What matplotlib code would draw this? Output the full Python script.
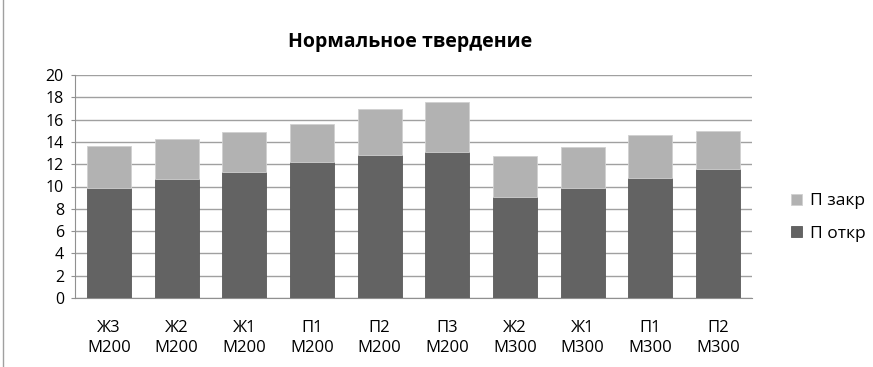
import matplotlib.pyplot as plt
import numpy as np

# Данные
labels = ['Ж3\nМ200', 'Ж2\nМ200', 'Ж1\nМ200', 'П1\nМ200', 'П2\nМ200',
          'П3\nМ200', 'Ж2\nМ300', 'Ж1\nМ300', 'П1\nМ300', 'П2\nМ300']
p_otkr = [9.9, 10.7, 11.3, 12.2, 12.8, 13.1, 9.1, 9.85, 10.8, 11.6]
p_total = [13.65, 14.25, 14.85, 15.6, 16.95, 17.55, 12.7, 13.5, 14.6, 15.0]
p_zakr = [t - o for t, o in zip(p_total, p_otkr)]

plt.rcParams['font.family'] = ['Open Sans', 'DejaVu Sans']
plt.rcParams['font.size'] = 11

fig = plt.figure(figsize=(8.73, 3.67), dpi=100)
ax = fig.add_axes([75 / 873, 1 - 298 / 367, 677 / 873, 223 / 367])

x = np.arange(len(labels))
ax.bar(x, p_otkr, width=0.65, color='#636363', edgecolor='#5a5a5a', linewidth=0.6,
       label='П откр', zorder=3)
ax.bar(x, p_zakr, width=0.65, bottom=p_otkr, color='#b2b2b2', edgecolor='#d0d0d0',
       linewidth=0.6, label='П закр', zorder=3)

ax.set_xlim(-0.5, len(labels) - 0.5)
ax.set_ylim(0, 20)
ax.set_yticks(range(0, 21, 2))
ax.set_xticks(x)
ax.set_xticklabels(labels, linespacing=1.35, fontsize=12)
ax.yaxis.grid(True, color='#a0a0a0', linewidth=1, zorder=0)
ax.tick_params(axis='x', length=0, pad=16)
ax.tick_params(axis='y', length=3, color='#909090', pad=5, labelsize=11.5)
for s in ['top', 'right']:
    ax.spines[s].set_visible(False)
ax.spines['left'].set_color('#909090')
ax.spines['bottom'].set_color('#909090')

fig.text(410 / 873, 1 - 42 / 367, 'Нормальное твердение', ha='center', va='center',
         fontsize=14, fontweight='bold')

h, l = ax.get_legend_handles_labels()
ax.legend(h[::-1], l[::-1], loc='center left', bbox_to_anchor=(1.035, 0.36),
          frameon=False, handlelength=0.6, handleheight=0.6, labelspacing=0.95,
          handletextpad=0.45, fontsize=12.5)

# линия слева (край рамки)
fig.add_artist(plt.Line2D([3 / 873, 3 / 873], [0, 1], transform=fig.transFigure,
                          color='#a0a0a0', linewidth=1))

plt.savefig('out.png', dpi=100)
plt.close()
